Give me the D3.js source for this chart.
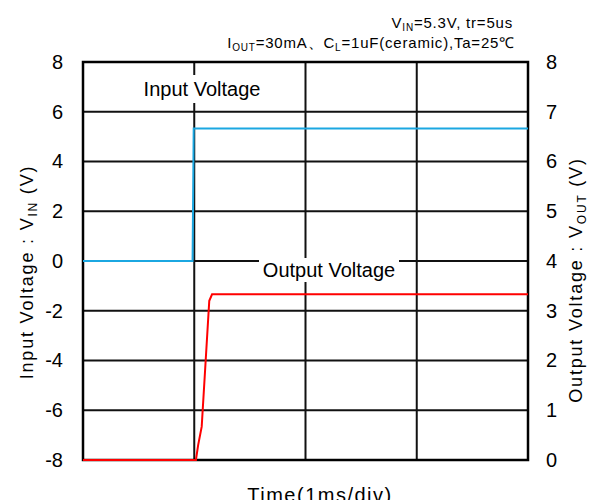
<!DOCTYPE html>
<html><head><meta charset="utf-8">
<script src="https://cdn.jsdelivr.net/npm/d3@7"></script>
<style>body{margin:0;background:#fff;} svg{display:block;font-family:"Liberation Sans",Arial,sans-serif;}</style>
</head><body>
<svg id="c" width="597" height="500"></svg>
<script>
// Data
const inputTime = [0, 0.985, 0.995, 4];
const inputVolt = [0, 0, 5.33, 5.33];
const outputTime = [0, 1.015, 1.035, 1.067, 1.135, 1.16, 4];
const outputVolt = [0, 0, 0.3, 0.67, 3.2, 3.33, 3.33];
const leftTicks = [-8, -6, -4, -2, 0, 2, 4, 6, 8];
const rightTicks = [0, 1, 2, 3, 4, 5, 6, 7, 8];
const timeDivs = [0, 1, 2, 3, 4];

const svg = d3.select("#c");
const L = 83, R = 528, T = 62, B = 460;
const x = d3.scaleLinear().domain([0, 4]).range([L, R]);
const yL = d3.scaleLinear().domain([-8, 8]).range([B, T]);
const yR = d3.scaleLinear().domain([0, 8]).range([B, T]);

// grid
svg.append("g").selectAll("line").data(leftTicks).join("line")
  .attr("x1", L).attr("x2", R).attr("y1", d => yL(d)).attr("y2", d => yL(d))
  .attr("stroke", "#111").attr("stroke-width", 2);
svg.append("g").selectAll("line").data(timeDivs).join("line")
  .attr("x1", d => x(d)).attr("x2", d => x(d)).attr("y1", T).attr("y2", B)
  .attr("stroke", "#111").attr("stroke-width", 2);

// label boxes
function boxLabel(cx, cy, w, h, txt) {
  svg.append("rect").attr("x", cx - w/2).attr("y", cy - h/2).attr("width", w).attr("height", h).attr("fill", "#fff");
  svg.append("text").attr("x", cx).attr("y", cy).attr("text-anchor", "middle").attr("dominant-baseline", "central")
    .attr("font-size", 20).attr("fill", "#000").text(txt);
}
boxLabel(202, 89, 126, 28, "Input Voltage");
boxLabel(329, 270, 140, 24, "Output Voltage");

// frame
svg.append("rect").attr("x", L).attr("y", T).attr("width", R - L).attr("height", B - T)
  .attr("fill", "none").attr("stroke", "#000").attr("stroke-width", 2.5);

// lines
const inData = inputTime.map((t, i) => [t, inputVolt[i]]);
const outData = outputTime.map((t, i) => [t, outputVolt[i]]);
svg.append("path").datum(inData)
  .attr("d", d3.line().x(d => x(d[0])).y(d => yL(d[1])))
  .attr("fill", "none").attr("stroke", "#1BA7E1").attr("stroke-width", 2);
svg.append("path").datum(outData)
  .attr("d", d3.line().x(d => x(d[0])).y(d => yR(d[1])))
  .attr("fill", "none").attr("stroke", "#FF0000").attr("stroke-width", 2);

// axes (labels only)
const axL = svg.append("g").attr("transform", `translate(${L - 20},0)`)
  .call(d3.axisLeft(yL).tickValues(leftTicks).tickSize(0).tickPadding(0).tickFormat(d => String(d)));
const axR = svg.append("g").attr("transform", `translate(${R + 18},0)`)
  .call(d3.axisRight(yR).tickValues(rightTicks).tickSize(0).tickPadding(0).tickFormat(d => String(d)));
[axL, axR].forEach(a => {
  a.select(".domain").remove();
  a.selectAll("text").attr("font-size", 20).attr("font-family", '"Liberation Sans",Arial,sans-serif').attr("fill", "#000");
});

// axis titles
const lt = svg.append("text").attr("transform", "translate(33,272) rotate(-90)")
  .attr("text-anchor", "middle").attr("font-size", 18).attr("letter-spacing", 1.8).attr("fill", "#000");
lt.append("tspan").text("Input Voltage : V");
lt.append("tspan").attr("font-size", 12).attr("dy", 4).text("IN");
lt.append("tspan").attr("dy", -4).text(" (V)");

const rt = svg.append("text").attr("transform", "translate(582,280) rotate(-90)")
  .attr("text-anchor", "middle").attr("font-size", 18).attr("letter-spacing", 1.8).attr("fill", "#000");
rt.append("tspan").text("Output Voltage : V");
rt.append("tspan").attr("font-size", 12).attr("dy", 4).text("OUT");
rt.append("tspan").attr("dy", -4).text(" (V)");

svg.append("text").attr("x", 320).attr("y", 502).attr("text-anchor", "middle")
  .attr("font-size", 20).attr("letter-spacing", 1.5).attr("fill", "#000").text("Time(1ms/div)");

// conditions
const c1 = svg.append("text").attr("x", 513).attr("y", 28).attr("text-anchor", "end").attr("font-size", 15).attr("letter-spacing", 0.8).attr("fill", "#000");
c1.append("tspan").text("V");
c1.append("tspan").attr("font-size", 10).attr("dy", 3).text("IN");
c1.append("tspan").attr("dy", -3).text("=5.3V,  tr=5us");
const c2 = svg.append("text").attr("x", 515).attr("y", 48).attr("text-anchor", "end").attr("font-size", 15).attr("letter-spacing", 0.8).attr("fill", "#000");
c2.append("tspan").text("I");
c2.append("tspan").attr("font-size", 10).attr("dy", 3).text("OUT");
c2.append("tspan").attr("dy", -3).text("=30mA、C");
c2.append("tspan").attr("font-size", 10).attr("dy", 3).text("L");
c2.append("tspan").attr("dy", -3).text("=1uF(ceramic),Ta=25℃");
</script>
</body></html>
